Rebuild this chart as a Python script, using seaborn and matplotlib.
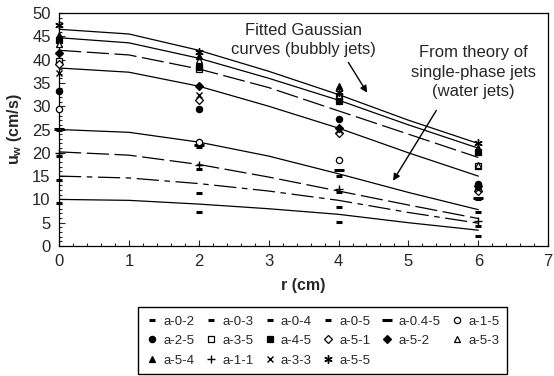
import matplotlib
matplotlib.use("Agg")
import matplotlib.pyplot as plt
import pandas as pd
import seaborn as sns

# ── Daten ────────────────────────────────────────────────────────────────
r_pts = [0, 2, 4, 6]
r_fit = [0, 1, 2, 3, 4, 5, 6]

# Gauss-Fits (bubbly jets)
gauss_1 = [46.5, 45.5, 42.0, 37.5, 32.5, 27.0, 22.0]
gauss_2 = [44.7, 43.6, 40.3, 36.0, 31.3, 26.0, 21.0]
gauss_3 = [42.0, 41.0, 38.0, 34.0, 29.0, 24.0, 19.0]
gauss_4 = [38.2, 37.3, 34.3, 30.0, 25.3, 20.0, 15.0]
# Theorie Einphasenstrahl (water jets)
water_25 = [25.0, 24.4, 22.3, 19.3, 15.5, 11.5, 7.8]
water_20 = [20.2, 19.5, 17.5, 14.8, 11.8, 8.8, 5.9]
water_15 = [15.0, 14.6, 13.4, 11.8, 9.8, 7.2, 4.9]
water_10 = [10.0, 9.8, 9.0, 8.0, 6.8, 5.0, 3.4]

# Messpunkte je Serie bei r = 0, 2, 4, 6
a_0_2 = [9.3, 7.3, 5.2, 2.2]
a_0_3 = [14.1, 11.3, 8.4, 4.2]
a_0_4 = [19.3, 16.6, 11.6, 7.3]
a_0_5 = [25.0, 21.3, 15.0, 10.0]
a_04_5 = [25.2, 21.7, 16.3, 10.2]
a_1_5 = [29.4, 22.3, 18.4, 12.0]
a_2_5 = [33.3, 29.3, 27.3, 13.3]
a_3_5 = [39.8, 38.0, 31.8, 17.2]
a_4_5 = [44.2, 38.5, 31.2, 20.2]
a_5_1 = [39.0, 31.3, 24.3, 11.9]
a_5_2 = [41.4, 34.3, 25.3, 12.8]
a_5_3 = [43.3, 40.0, 32.5, 17.4]
a_5_4 = [45.2, 40.8, 34.3, 21.0]
a_1_1 = [20.0, 17.4, 12.3, 5.3]
a_3_3 = [37.2, 32.5, 25.0, 12.3]
a_5_5 = [47.5, 41.7, 33.0, 22.2]

series = {
    "a-0-2": a_0_2, "a-0-3": a_0_3, "a-0-4": a_0_4, "a-0-5": a_0_5,
    "a-0.4-5": a_04_5, "a-1-5": a_1_5, "a-2-5": a_2_5, "a-3-5": a_3_5,
    "a-4-5": a_4_5, "a-5-1": a_5_1, "a-5-2": a_5_2, "a-5-3": a_5_3,
    "a-5-4": a_5_4, "a-1-1": a_1_1, "a-3-3": a_3_3, "a-5-5": a_5_5,
}
df = pd.DataFrame(
    [(name, r, u) for name, vals in series.items() for r, u in zip(r_pts, vals)],
    columns=["series", "r", "u"],
)

# Marker: (marker, gefuellt, groesse, mew)
styles = {
    "a-0-2": ("_", True, 4, 2.2), "a-0-3": ("_", True, 4, 2.2),
    "a-0-4": ("_", True, 4, 2.2), "a-0-5": ("_", True, 4, 2.2),
    "a-0.4-5": ("_", True, 7, 2.2), "a-1-5": ("o", False, 4.5, 0.9),
    "a-2-5": ("o", True, 4.5, 0.9), "a-3-5": ("s", False, 4.2, 0.9),
    "a-4-5": ("s", True, 4.2, 0.9), "a-5-1": ("D", False, 4, 0.9),
    "a-5-2": ("D", True, 4, 0.9), "a-5-3": ("^", False, 5, 0.9),
    "a-5-4": ("^", True, 5, 0.9), "a-1-1": ("+", True, 6, 1.0),
    "a-3-3": ("x", True, 5, 1.0), "a-5-5": ((6, 2, 0), True, 6, 1.0),
}

# ── Plot ─────────────────────────────────────────────────────────────────
sns.set_style("ticks", {"xtick.direction": "in", "ytick.direction": "in"})
plt.rcParams["font.family"] = ["Liberation Sans", "DejaVu Sans"]
plt.rcParams["mathtext.fontset"] = "custom"
plt.rcParams["mathtext.rm"] = "Liberation Sans"
plt.rcParams["mathtext.bf"] = "Liberation Sans:bold"
plt.rcParams["lines.scale_dashes"] = False

fig = plt.figure(figsize=(5.54, 3.76), dpi=100)
ax = fig.add_axes([0.1065, 0.3457, 0.8830, 0.6197])

dash = (0, (16, 4))
dashdot = (0, (16, 4, 4, 4))
curves = [
    (gauss_1, "-"), (gauss_2, "-"), (gauss_3, dash), (gauss_4, "-"),
    (water_25, "-"), (water_20, dash), (water_15, dashdot), (water_10, "-"),
]
for vals, ls in curves:
    sns.lineplot(x=r_fit, y=vals, ax=ax, color="black", lw=0.9,
                 linestyle=ls, errorbar=None)

handles = {}
for name in series:
    m, filled, ms, mew = styles[name]
    sub = df[df["series"] == name]
    sns.lineplot(data=sub, x="r", y="u", ax=ax, color="black", linestyle="",
                 marker=m, markersize=ms, markeredgewidth=mew,
                 markeredgecolor="black",
                 markerfacecolor="black" if filled else "white",
                 errorbar=None, clip_on=False, zorder=3)
    handles[name] = ax.lines[-1]

ax.set_xlim(0, 7)
ax.set_ylim(0, 50)
ax.set_xticks(range(0, 8))
ax.set_yticks(range(0, 51, 5))
ax.set_xticks([i * 0.2 for i in range(36)], minor=True)
ax.set_yticks(range(0, 51), minor=True)
ax.tick_params(which="major", length=4, width=0.8, labelsize=12, pad=6,
               top=False, right=False)
ax.tick_params(which="minor", length=2.5, width=0.8, top=False, right=False)
for sp in ax.spines.values():
    sp.set_visible(True)
    sp.set_color("black")
    sp.set_linewidth(0.9)

ax.set_xlabel("r (cm)", fontsize=11.5, fontweight="bold", labelpad=6)
ax.set_ylabel(r"u$_{\mathbf{w}}$ (cm/s)", fontsize=11.5, fontweight="bold",
              labelpad=6)

ax.text(3.5, 44.2, "Fitted Gaussian\ncurves (bubbly jets)", ha="center",
        va="center", fontsize=12, linespacing=1.4)
ax.annotate("", xy=(4.43, 32.4), xytext=(4.12, 39.9),
            arrowprops=dict(arrowstyle="-|>", color="black", lw=1,
                            mutation_scale=10))
ax.text(5.93, 37.3, "From theory of\nsingle-phase jets\n(water jets)",
        ha="center", va="center", fontsize=12, linespacing=1.35)
ax.annotate("", xy=(4.76, 13.5), xytext=(5.42, 29.6),
            arrowprops=dict(arrowstyle="-|>", color="black", lw=1,
                            mutation_scale=10))

# Legende zeilenweise wie im Original (matplotlib fuellt spaltenweise)
order = ["a-0-2", "a-2-5", "a-5-4", "a-0-3", "a-3-5", "a-1-1",
         "a-0-4", "a-4-5", "a-3-3", "a-0-5", "a-5-1", "a-5-5",
         "a-0.4-5", "a-5-2", "a-1-5", "a-5-3"]
leg = fig.legend([handles[n] for n in order], order, ncol=6,
                 loc="upper center", bbox_to_anchor=(0.582, 0.2),
                 frameon=True, fancybox=False, edgecolor="black",
                 fontsize=9.5, handlelength=1.0, handletextpad=0.35,
                 columnspacing=0.75, borderpad=0.6, labelspacing=0.55,
                 numpoints=1, framealpha=1)
leg.get_frame().set_linewidth(1.0)

fig.savefig("out.png", dpi=100)
